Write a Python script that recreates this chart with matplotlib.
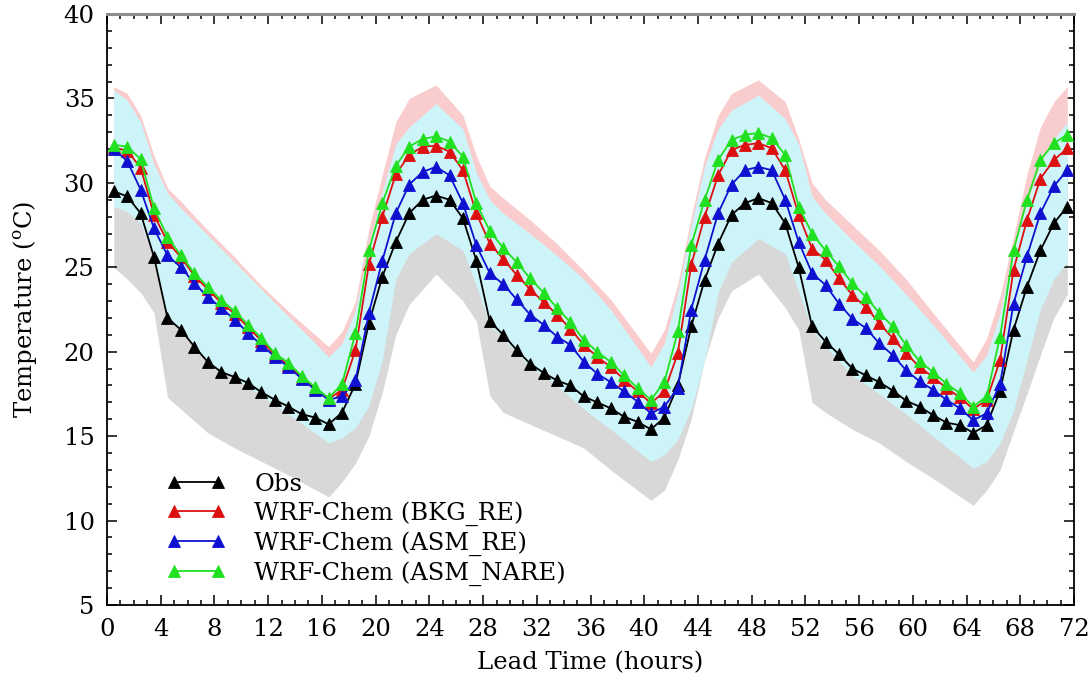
import numpy as np
import matplotlib
matplotlib.use("Agg")
import matplotlib.pyplot as plt
from matplotlib.ticker import MultipleLocator

# Lead time of each hourly value (centre of the hour)
hours = np.arange(0.5, 72.0, 1.0)

obs = [29.5, 29.2, 28.2, 25.6, 22.0, 21.3, 20.3, 19.4, 18.8, 18.5, 18.15, 17.6,
       17.15, 16.75, 16.3, 16.1, 15.7, 16.4, 18.1, 21.7, 24.45, 26.5, 28.2, 29.0,
       29.25, 29.0, 27.9, 25.4, 21.8, 21.0, 20.1, 19.3, 18.75, 18.3, 18.0, 17.35,
       17.0, 16.65, 16.15, 15.85, 15.4, 16.1, 18.0, 21.5, 24.25, 26.4, 28.1, 28.8,
       29.1, 28.8, 27.6, 25.0, 21.5, 20.6, 19.85, 19.0, 18.6, 18.2, 17.7, 17.1,
       16.75, 16.25, 15.8, 15.65, 15.2, 15.65, 17.7, 21.3, 23.85, 26.0, 27.6, 28.6]

bkg_re = [32.1, 31.9, 30.9, 28.1, 26.5, 25.6, 24.5, 23.7, 22.9, 22.25, 21.45, 20.65,
          19.8, 19.2, 18.45, 17.8, 17.2, 17.75, 20.1, 25.2, 28.0, 30.5, 31.65, 32.15,
          32.2, 31.85, 30.75, 28.2, 26.4, 25.5, 24.55, 23.7, 22.95, 22.2, 21.35, 20.4,
          19.7, 19.1, 18.35, 17.65, 16.95, 17.65, 19.9, 25.15, 28.0, 30.45, 31.95, 32.25,
          32.35, 32.05, 30.75, 28.1, 26.1, 25.45, 24.35, 23.35, 22.65, 21.7, 20.8, 19.9,
          19.1, 18.5, 17.85, 17.3, 16.6, 17.15, 19.5, 24.85, 27.8, 30.25, 31.35, 32.05]

asm_re = [32.0, 31.3, 29.6, 27.3, 25.7, 25.0, 24.05, 23.25, 22.6, 21.9, 21.1, 20.4,
          19.7, 19.1, 18.4, 17.75, 17.15, 17.35, 18.3, 22.3, 25.4, 28.2, 29.9, 30.65,
          30.95, 30.45, 28.8, 26.3, 24.65, 24.0, 23.1, 22.2, 21.6, 20.9, 20.4, 19.4,
          18.7, 18.2, 17.65, 17.05, 16.35, 16.75, 17.85, 22.5, 25.45, 28.2, 29.9, 30.75,
          30.95, 30.75, 29.0, 26.5, 24.65, 23.95, 22.85, 21.95, 21.4, 20.5, 19.8, 18.9,
          18.25, 17.75, 17.15, 16.65, 15.95, 16.35, 18.1, 22.85, 25.65, 28.2, 29.8, 30.75]

asm_nare = [32.25, 32.15, 31.4, 28.5, 26.8, 25.7, 24.65, 23.85, 23.05, 22.4, 21.6, 20.8,
            19.9, 19.35, 18.55, 17.9, 17.25, 18.1, 21.1, 26.0, 28.8, 31.0, 32.15, 32.6,
            32.75, 32.45, 31.55, 28.8, 27.15, 26.15, 25.3, 24.35, 23.5, 22.6, 21.75, 20.7,
            20.0, 19.4, 18.6, 17.85, 17.15, 18.2, 21.2, 26.3, 29.0, 31.35, 32.55, 32.85,
            32.95, 32.65, 31.65, 28.6, 27.0, 26.0, 25.05, 24.05, 23.25, 22.3, 21.5, 20.4,
            19.45, 18.8, 18.1, 17.55, 16.75, 17.35, 20.9, 26.0, 29.0, 31.35, 32.35, 32.85]

# Spread envelopes, given at selected lead times
band_t = [0.5, 1.5, 2.5, 3.5, 4.5, 5.5, 7.5, 9.5, 11.5, 13.5,
          16.5, 17.5, 18.5, 19.5, 20.5, 21.5, 22.5, 24.5,
          26.5, 27.5, 28.5, 29.5, 31.5, 33.5, 35.5, 37.5,
          40.5, 41.5, 42.5, 43.5, 44.5, 45.5, 46.5, 48.5,
          50.5, 51.5, 52.5, 53.5, 55.5, 57.5, 59.5, 61.5,
          64.5, 65.5, 66.5, 67.5, 68.5, 69.5, 70.5, 71.5]

obs_lo = [25.0, 24.3, 23.5, 22.3, 17.3, 16.6, 15.2, 14.3, 13.5, 12.7,
          11.4, 12.3, 13.4, 15.0, 17.6, 21.0, 22.8, 24.6,
          23.0, 21.8, 17.4, 16.4, 15.7, 15.0, 14.3, 13.0,
          11.2, 11.8, 13.6, 16.0, 19.5, 22.0, 23.6, 24.6,
          22.6, 21.3, 17.0, 16.4, 15.4, 14.6, 13.5, 12.5,
          10.9, 11.8, 13.0, 15.3, 17.5, 19.8, 22.0, 23.4]
obs_hi = [31.0, 30.7, 29.8, 27.5, 24.0, 23.0, 21.2, 20.2, 19.3, 18.4,
          17.4, 18.0, 19.8, 23.5, 26.3, 28.5, 30.0, 31.0,
          29.8, 27.3, 23.7, 22.8, 21.1, 20.0, 19.0, 18.3,
          17.0, 17.6, 19.6, 23.3, 26.0, 28.2, 29.9, 31.0,
          29.4, 26.8, 23.3, 22.4, 20.8, 19.9, 18.8, 17.9,
          16.8, 17.3, 19.4, 23.0, 25.6, 27.7, 29.2, 30.2]

bkg_lo = [29.5, 29.3, 28.5, 26.0, 24.3, 23.4, 21.7, 20.4, 19.0, 17.6,
          15.8, 16.3, 18.2, 22.6, 25.6, 28.0, 29.3, 29.9,
          28.5, 25.9, 24.1, 23.2, 21.6, 20.1, 18.6, 17.2,
          15.3, 15.9, 17.9, 22.7, 25.6, 28.0, 29.6, 30.0,
          28.5, 25.8, 23.8, 23.0, 21.0, 19.5, 18.0, 16.6,
          15.0, 15.5, 17.6, 22.5, 25.3, 27.8, 29.0, 29.6]
bkg_hi = [35.7, 35.3, 34.0, 31.6, 29.7, 28.9, 27.2, 25.6, 23.9, 22.4,
          20.3, 21.2, 23.0, 27.3, 30.5, 33.6, 35.0, 35.8,
          34.0, 31.6, 29.8, 29.1, 27.8, 26.4, 24.8, 23.1,
          19.9, 21.3, 24.0, 28.0, 31.5, 34.0, 35.3, 36.1,
          34.8, 32.6, 30.0, 29.0, 27.5, 26.0, 24.3, 22.3,
          19.4, 20.8, 23.3, 26.8, 30.5, 33.3, 34.8, 35.7]

asm_lo = [28.6, 28.3, 27.6, 25.6, 22.0, 21.2, 19.4, 18.4, 17.4, 16.3,
          14.6, 14.9, 15.5, 16.8, 19.5, 24.3, 25.8, 27.0,
          26.0, 23.9, 21.6, 20.8, 19.1, 18.0, 16.6, 15.4,
          13.5, 13.9, 14.8, 16.6, 19.5, 23.5, 25.3, 26.7,
          25.8, 23.6, 21.3, 20.3, 18.6, 17.5, 16.3, 15.0,
          13.1, 13.5, 14.6, 16.5, 19.5, 22.5, 24.3, 25.3]
asm_hi = [35.5, 34.9, 33.6, 31.1, 29.4, 28.5, 26.9, 25.3, 23.7, 22.1,
          19.7, 20.5, 22.5, 26.3, 29.5, 32.3, 33.3, 34.7,
          33.2, 30.6, 29.0, 28.2, 27.0, 25.7, 24.3, 22.5,
          19.1, 20.5, 23.5, 27.5, 31.0, 33.2, 34.3, 35.2,
          33.8, 32.3, 29.2, 28.2, 26.6, 25.1, 23.4, 21.6,
          18.8, 19.8, 22.3, 26.3, 28.8, 31.2, 32.6, 33.6]

labels = ["Obs", "WRF-Chem (BKG_RE)", "WRF-Chem (ASM_RE)", "WRF-Chem (ASM_NARE)"]
colors = ["#000000", "#dc1010", "#1010d0", "#20e020"]

plt.rcParams["font.family"] = ["DejaVu Serif"]
plt.rcParams["mathtext.fontset"] = "dejavuserif"
FS = 17.5

fig = plt.figure(figsize=(10.89, 6.81), dpi=100)
ax = fig.add_axes([0.0983, 0.1116, 0.8879, 0.8678])

ax.fill_between(band_t, obs_lo, obs_hi, color="#d8d8d8", lw=0, zorder=1)
ax.fill_between(band_t, bkg_lo, bkg_hi, color="#f9cdcd", lw=0, zorder=2)
ax.fill_between(band_t, asm_lo, asm_hi, color="#cdf4f8", lw=0, zorder=3)

for series, lab, col in zip([obs, bkg_re, asm_re, asm_nare], labels, colors):
    ax.plot(hours, series, color=col, lw=1.3, marker="^", markersize=8.5,
            markeredgewidth=0.6, markeredgecolor=col, label=lab, zorder=5)

ax.set_xlim(0, 72)
ax.set_ylim(5, 40)
ax.xaxis.set_major_locator(MultipleLocator(4))
ax.xaxis.set_minor_locator(MultipleLocator(1))
ax.yaxis.set_major_locator(MultipleLocator(5))
ax.yaxis.set_minor_locator(MultipleLocator(1))
ax.tick_params(which="both", direction="in", top=True, right=True,
               labelsize=FS, width=1.1)
ax.tick_params(axis="x", which="major", length=7, pad=9)
ax.tick_params(axis="y", which="major", length=7, pad=9)
ax.tick_params(which="minor", length=3.5)
for s in ["left", "right", "bottom"]:
    ax.spines[s].set_linewidth(1.3)
ax.spines["top"].set_linewidth(2.2)
ax.spines["top"].set_color("#8c8c8c")

ax.set_xlabel("Lead Time (hours)", fontsize=FS, labelpad=8)
ax.set_ylabel("Temperature ($^{\\rm o}$C)", fontsize=FS, labelpad=18)

ax.legend(loc="upper left", bbox_to_anchor=(0.062, 0.224), frameon=False,
          fontsize=FS, numpoints=2, handlelength=2.4, handletextpad=1.2,
          labelspacing=0.22, borderpad=0, borderaxespad=0)

fig.savefig("out.png", dpi=100)
